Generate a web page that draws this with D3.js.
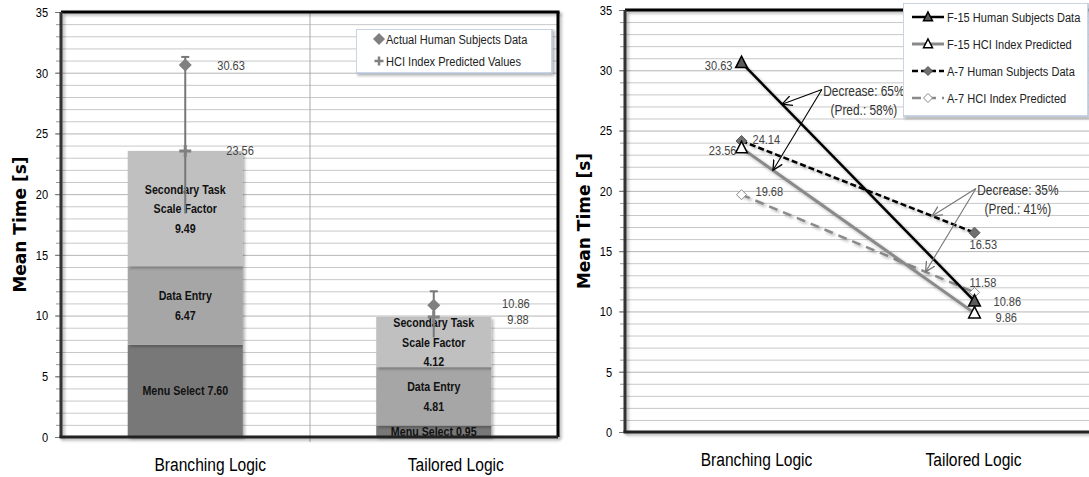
<!DOCTYPE html>
<html lang="en">
<head>
<meta charset="UTF-8">
<title>Mean Time: Branching vs Tailored Logic</title>
<script src="https://d3js.org/d3.v7.min.js"></script>
<style>
  body { margin: 0; background: #fff; }
  svg { display: block; }
  text { font-family: "Liberation Sans", Arial, sans-serif; transform-box: fill-box; transform: scaleX(0.82); }
  text.ytitle { font-family: "DejaVu Sans", Verdana, sans-serif; font-weight: bold; font-size: 17px; transform: none; }
  .tick text { font-size: 13.5px; fill: #000; }
  .yax text { transform-origin: right center; }
  .cat text { transform-origin: center; }
  .seg { font-size: 13px; font-weight: bold; fill: #111; transform-origin: center; }
  .val { font-size: 13.5px; fill: #444; }
  .leg { font-size: 13.5px; fill: #222; transform-origin: left center; }
  .note { font-size: 14.5px; fill: #333; transform-origin: center; }
  .start { transform-origin: left center; }
  .end { transform-origin: right center; }
</style>
</head>
<body>
<div id="chart"></div>
<script>
// ---- data ----
const categories = ["Branching Logic", "Tailored Logic"];
const segKeys = ["menu", "entry", "secondary"];
const menuSelect = [7.60, 0.95];
const dataEntry = [6.47, 4.81];
const secondaryTask = [9.49, 4.12];
const actualHuman = [30.63, 10.86];
const predictedHci = [23.56, 9.88];
const errLow = [18.4, 8.2];
const errHigh = [31.3, 12.0];

const f15Human = [30.63, 10.86];
const f15Hci = [23.56, 9.86];
const a7Human = [24.14, 16.53];
const a7Hci = [19.68, 11.58];

const yMajor = [0, 5, 10, 15, 20, 25, 30, 35];
const yMinor = d3.range(0, 36);

const W = 1089, H = 477;
const svg = d3.select("#chart").append("svg").attr("width", W).attr("height", H);
svg.append("rect").attr("width", W).attr("height", H).attr("fill", "#fff");

const defs = svg.append("defs");
defs.append("filter").attr("id", "shadow").attr("filterUnits", "userSpaceOnUse")
    .attr("x", 0).attr("y", 0).attr("width", W).attr("height", H)
    .append("feDropShadow").attr("dx", 2).attr("dy", 2).attr("stdDeviation", 1.5)
    .attr("flood-color", "#000").attr("flood-opacity", 0.3);
[["arrowK", "#000"], ["arrowG", "#777"]].forEach(([id, c]) => {
    defs.append("marker").attr("id", id).attr("viewBox", "0 0 10 10")
        .attr("refX", 9).attr("refY", 5).attr("markerWidth", 11).attr("markerHeight", 11)
        .attr("markerUnits", "userSpaceOnUse").attr("orient", "auto")
        .append("path").attr("d", "M0,0.5 L9,5 L0,9.5").attr("fill", "none")
        .attr("stroke", c).attr("stroke-width", 1.2);
});

// helpers
function grid(g, y, x0, x1) {
    g.selectAll("line.grid").data(yMinor.slice(1)).join("line")
        .attr("class", "grid")
        .attr("x1", x0).attr("x2", x1)
        .attr("y1", d => y(d) + 0.5).attr("y2", d => y(d) + 0.5)
        .attr("stroke", d => d % 5 === 0 ? "#b4b4b4" : "#c8c8c8")
        .attr("stroke-width", 1);
}
function yAxes(g, y, x0) {
    g.append("g").attr("transform", `translate(${x0},0)`)
        .call(d3.axisLeft(y).tickValues(yMinor).tickSize(5).tickFormat(""))
        .call(a => a.select(".domain").remove())
        .call(a => a.selectAll("line").attr("stroke", "#999"));
    g.append("g").attr("class", "yax").attr("transform", `translate(${x0},0)`)
        .call(d3.axisLeft(y).tickValues(yMajor).tickSize(6).tickPadding(7))
        .call(a => a.select(".domain").remove())
        .call(a => a.selectAll("line").attr("stroke", "#777"));
}
function yTitle(g, x, y) {
    g.append("g").attr("transform", `translate(${x},${y}) rotate(-90)`)
        .append("text").attr("class", "ytitle").attr("text-anchor", "middle")
        .attr("dy", "0.35em").text("Mean Time [s]");
}
function diamond(sel, s) {
    return sel.attr("d", `M0,${-s}L${s},0L0,${s}L${-s},0Z`);
}
function triangle(sel, s) {
    return sel.attr("d", `M0,${-s}L${s * 0.9},${s * 0.75}L${-s * 0.9},${s * 0.75}Z`);
}
function frame(g, x1, y1, x2, y2, color) {
    g.append("line").attr("x1", x1).attr("y1", y1).attr("x2", x2).attr("y2", y2)
        .attr("stroke", color).attr("stroke-width", 3).attr("filter", "url(#shadow)");
}

// ================= LEFT CHART =================
const L = { left: 61, right: 558, top: 12, bottom: 437 };
const xL = d3.scaleBand().domain(categories).range([L.left, L.right]);
const yL = d3.scaleLinear().domain([0, 35]).range([L.bottom, L.top]);
const gl = svg.append("g");

grid(gl, yL, L.left, L.right);
gl.append("line")
    .attr("x1", xL(categories[1]) + 0.5).attr("x2", xL(categories[1]) + 0.5)
    .attr("y1", L.top).attr("y2", L.bottom + 5)
    .attr("stroke", "#aaa");
yAxes(gl, yL, L.left);

const rows = categories.map((c, i) => ({ cat: c, menu: menuSelect[i], entry: dataEntry[i], secondary: secondaryTask[i] }));
const stacked = d3.stack().keys(segKeys)(rows);
const segColors = ["#787878", "#a6a6a6", "#c0c0c0"];
const barW = xL.bandwidth() * 0.463;
const barX = c => xL(c) + (xL.bandwidth() - barW) / 2;

stacked.forEach((layer, k) => {
    gl.append("g").selectAll("rect").data(layer).join("rect")
        .attr("x", d => barX(d.data.cat))
        .attr("y", d => yL(d[1]))
        .attr("width", barW)
        .attr("height", d => yL(d[0]) - yL(d[1]))
        .attr("fill", segColors[k])
        .attr("filter", "url(#shadow)");
});

// segment labels
stacked.forEach((layer, k) => {
    layer.forEach(d => {
        const v = (d[1] - d[0]).toFixed(2);
        const lines = k === 0 ? [`Menu Select ${v}`] : k === 1 ? ["Data Entry", v] : ["Secondary Task", "Scale Factor", v];
        const cx = xL(d.data.cat) + xL.bandwidth() / 2;
        const cy = yL((d[0] + d[1]) / 2);
        const step = 19.5;
        gl.append("text").attr("class", "seg").attr("text-anchor", "middle")
            .selectAll("tspan").data(lines).join("tspan")
            .attr("x", cx)
            .attr("y", (t, i) => cy + (i - (lines.length - 1) / 2) * step)
            .attr("dy", "0.35em")
            .text(t => t);
    });
});

// error bars + markers
categories.forEach((c, i) => {
    const cx = xL(c) + xL.bandwidth() / 2;
    gl.append("line").attr("x1", cx).attr("x2", cx)
        .attr("y1", yL(errLow[i])).attr("y2", yL(errHigh[i]))
        .attr("stroke", "#777").attr("stroke-width", 2);
    gl.append("line").attr("x1", cx - 4).attr("x2", cx + 4)
        .attr("y1", yL(errHigh[i])).attr("y2", yL(errHigh[i]))
        .attr("stroke", "#777").attr("stroke-width", 2);
    gl.append("path").attr("transform", `translate(${cx},${yL(predictedHci[i])})`)
        .attr("d", "M-6,0H6M0,-6V6").attr("stroke", "#808080").attr("stroke-width", 3);
    gl.append("path").attr("transform", `translate(${cx},${yL(actualHuman[i])})`)
        .call(diamond, 6.5).attr("fill", "#808080");
});
// value labels
const cL0 = xL(categories[0]) + xL.bandwidth() / 2, cL1 = xL(categories[1]) + xL.bandwidth() / 2;
gl.append("text").attr("class", "val start").attr("x", cL0 + 32)
    .attr("y", yL(actualHuman[0])).attr("dy", "0.35em").text(actualHuman[0].toFixed(2));
gl.append("text").attr("class", "val start").attr("x", cL0 + 41)
    .attr("y", yL(predictedHci[0]) - 1).attr("dy", "0.35em").text(predictedHci[0].toFixed(2));
gl.append("text").attr("class", "val end").attr("text-anchor", "end").attr("x", cL1 + 96)
    .attr("y", yL(actualHuman[1]) - 2).attr("dy", "0.35em").text(actualHuman[1].toFixed(2));
gl.append("text").attr("class", "val end").attr("text-anchor", "end").attr("x", cL1 + 95)
    .attr("y", yL(actualHuman[1]) + 14).attr("dy", "0.35em").text(predictedHci[1].toFixed(2));

// frame
frame(gl, L.left, L.top, L.right + 1.5, L.top, "#000");
frame(gl, L.right, L.top, L.right, L.bottom, "#000");
frame(gl, L.left, L.top, L.left, L.bottom, "#333");
frame(gl, L.left - 1.5, L.bottom, L.right, L.bottom, "#222");

gl.append("g").attr("class", "cat").attr("transform", `translate(0,${L.bottom})`)
    .call(d3.axisBottom(xL).tickSize(0).tickPadding(21))
    .call(a => a.select(".domain").remove())
    .call(a => a.selectAll("text").attr("dx", (d, i) => [25, 22][i]).style("font-size", "19px").attr("fill", "#000"));

yTitle(gl, 20, (L.top + L.bottom) / 2);

// legend (left)
const lgL = gl.append("g").attr("transform", "translate(356,29)");
lgL.append("rect").attr("width", 196).attr("height", 44).attr("fill", "#fff")
    .attr("stroke", "#b9c7dc").attr("stroke-width", 1.5).attr("filter", "url(#shadow)");
lgL.append("path").attr("transform", "translate(23,10)").call(diamond, 6).attr("fill", "#808080");
lgL.append("path").attr("transform", "translate(23,32)").attr("d", "M-4.5,0H4.5M0,-4.5V4.5")
    .attr("stroke", "#808080").attr("stroke-width", 2.5);
lgL.append("text").attr("class", "leg").attr("x", 30).attr("y", 10).attr("dy", "0.35em").text("Actual Human Subjects Data");
lgL.append("text").attr("class", "leg").attr("x", 30).attr("y", 32).attr("dy", "0.35em").text("HCI Index Predicted Values");

// ================= RIGHT CHART =================
const R = { left: 625, right: 1091, top: 10, bottom: 432 };
const xR = d3.scaleBand().domain(categories).range([R.left, R.right]);
const yR = d3.scaleLinear().domain([0, 35]).range([R.bottom, R.top]);
const cxR = c => xR(c) + xR.bandwidth() / 2;
const gr = svg.append("g");

grid(gr, yR, R.left, R.right);
yAxes(gr, yR, R.left);

const series = [
    { name: "F-15 Human Subjects Data", values: f15Human, stroke: "#000", width: 2.5, dash: null, mark: "tri", fill: "#5a5a5a", mstroke: "#000" },
    { name: "F-15 HCI Index Predicted", values: f15Hci, stroke: "#8a8a8a", width: 3, dash: null, mark: "tri", fill: "#fff", mstroke: "#000" },
    { name: "A-7 Human Subjects Data", values: a7Human, stroke: "#000", width: 2.5, dash: "6,3", mark: "dia", fill: "#707070", mstroke: "#555" },
    { name: "A-7 HCI Index Predicted", values: a7Hci, stroke: "#8a8a8a", width: 2.5, dash: "9,6", mark: "odia", fill: "#fff", mstroke: "#888" }
];
const line = d3.line().x((d, i) => cxR(categories[i])).y(d => yR(d));

function drawMarker(sel, s, size) {
    if (s.mark === "tri") sel.call(triangle, size || 6.5).attr("fill", s.fill).attr("stroke", s.mstroke).attr("stroke-width", 1.5);
    else if (s.mark === "dia") sel.call(diamond, size || 5.5).attr("fill", s.fill).attr("stroke", s.mstroke).attr("stroke-width", 1);
    else sel.call(diamond, size || 5).attr("fill", s.fill).attr("stroke", s.mstroke).attr("stroke-width", 1);
}

[3, 2, 1, 0].forEach(k => {
    const s = series[k];
    gr.append("path").datum(s.values).attr("d", line)
        .attr("fill", "none").attr("stroke", s.stroke).attr("stroke-width", s.width)
        .attr("stroke-dasharray", s.dash).attr("filter", "url(#shadow)");
});
[3, 2, 1, 0].forEach(k => {
    const s = series[k];
    s.values.forEach((v, i) => {
        gr.append("path").attr("transform", `translate(${cxR(categories[i])},${yR(v)})`).call(drawMarker, s);
    });
});

// point labels: [series, point, dx, dy, anchor]
const ptLabels = [
    [0, 0, -9, 3, "end"], [1, 0, -5, 2, "end"], [2, 0, 11, -2, "start"], [3, 0, 14, -3, "start"],
    [2, 1, -5, 12, "start"], [3, 1, -5, -10, "start"], [0, 1, 19, 0, "start"], [1, 1, 21, 4, "start"]
];
ptLabels.forEach(([k, i, dx, dy, anchor]) => {
    const v = series[k].values[i];
    gr.append("text").attr("class", "val " + anchor).attr("text-anchor", anchor)
        .attr("x", cxR(categories[i]) + dx).attr("y", yR(v) + dy).attr("dy", "0.35em")
        .text(v.toFixed(2));
});

// annotations
const annotations = [
    { lines: ["Decrease: 65%", "(Pred.: 58%)"], t: 0.345, v: 28.4, targets: [[0, 0.174], [1, 0.135]], marker: "arrowK", color: "#000" },
    { lines: ["Decrease: 35%", "(Pred.: 41%)"], t: 1.006, v: 20.2, targets: [[2, 0.818], [3, 0.79]], marker: "arrowG", color: "#777" }
];
const x0R = cxR(categories[0]), x1R = cxR(categories[1]);
annotations.forEach(a => {
    const ax = x0R + a.t * (x1R - x0R), ay = yR(a.v);
    a.targets.forEach(([k, t]) => {
        const vals = series[k].values;
        gr.append("line").attr("x1", ax).attr("y1", ay)
            .attr("x2", x0R + t * (x1R - x0R)).attr("y2", yR(vals[0] + t * (vals[1] - vals[0])))
            .attr("stroke", a.color).attr("stroke-width", 1.1).attr("marker-end", `url(#${a.marker})`);
    });
    a.lines.forEach((txt, i) => {
        gr.append("text").attr("class", "note").attr("text-anchor", "middle")
            .attr("x", ax + 42).attr("y", ay + 1 + i * 19).attr("dy", "0.35em").text(txt);
    });
});

// frame
frame(gr, R.left, R.top, R.right, R.top, "#000");
frame(gr, R.left, R.top, R.left, R.bottom, "#333");
frame(gr, R.left - 1.5, R.bottom, R.right, R.bottom, "#222");

gr.append("g").attr("class", "cat").attr("transform", `translate(0,${R.bottom})`)
    .call(d3.axisBottom(xR).tickSize(0).tickPadding(21))
    .call(a => a.select(".domain").remove())
    .call(a => a.selectAll("text").attr("dx", (d, i) => [15, -1][i]).style("font-size", "19px").attr("fill", "#000"));

yTitle(gr, 584, (R.top + R.bottom) / 2);

// legend (right)
const lgR = gr.append("g").attr("transform", "translate(903,3)");
lgR.append("rect").attr("width", 185).attr("height", 113).attr("fill", "#fff")
    .attr("stroke", "#b9c7dc").attr("stroke-width", 1.5).attr("filter", "url(#shadow)");
series.forEach((s, k) => {
    const ly = 14 + k * 27;
    lgR.append("line").attr("x1", 9).attr("x2", 41).attr("y1", ly).attr("y2", ly)
        .attr("stroke", s.stroke).attr("stroke-width", s.width).attr("stroke-dasharray", s.dash);
    lgR.append("path").attr("transform", `translate(25,${ly})`).call(drawMarker, s, s.mark === "tri" ? 5 : 4.5);
    lgR.append("text").attr("class", "leg").attr("x", 44).attr("y", ly).attr("dy", "0.35em").text(s.name);
});
</script>
</body>
</html>
